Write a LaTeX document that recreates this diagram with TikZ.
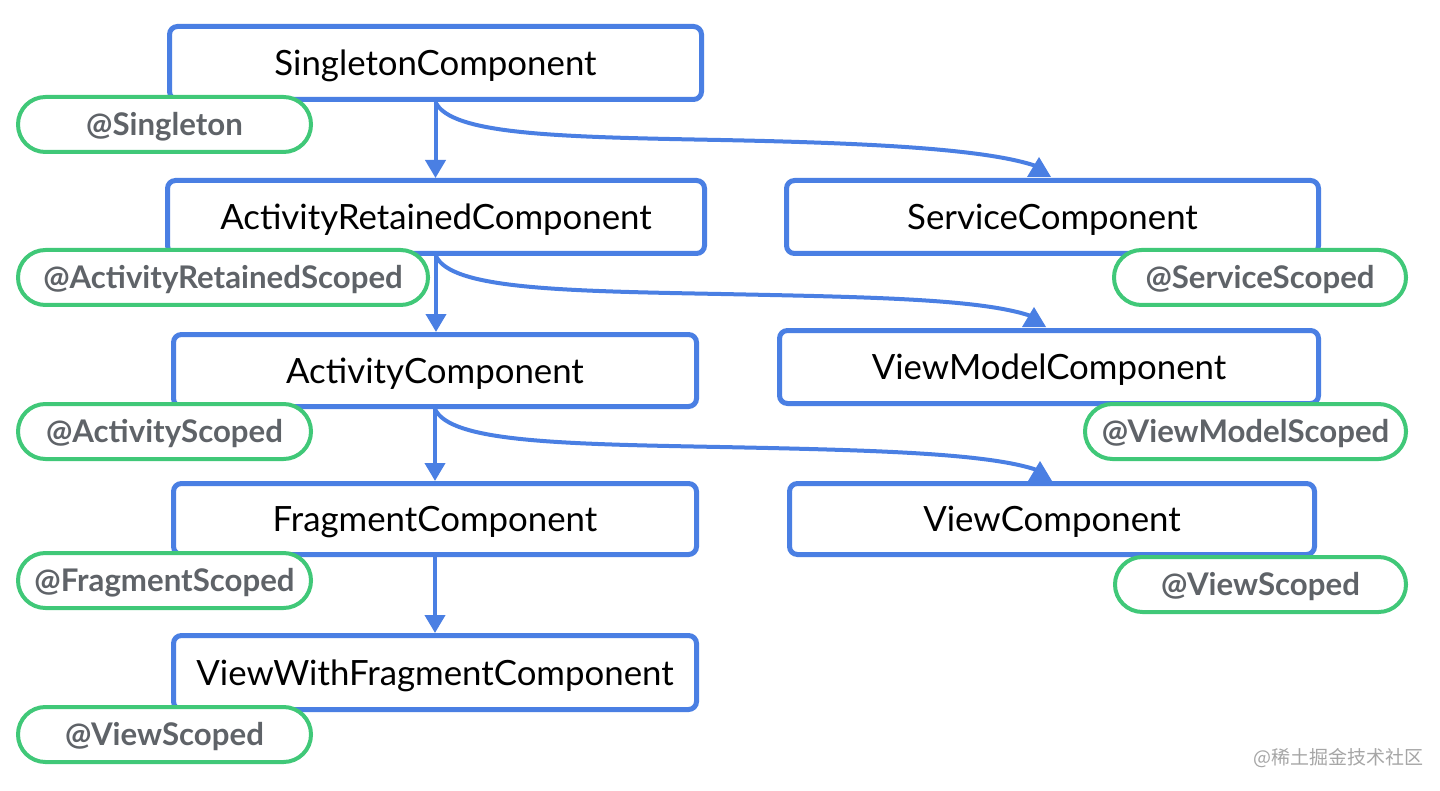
\documentclass[tikz,border=0pt]{standalone}
\usepackage{fontspec}
\setmainfont{Lato}
\newfontfamily\cjkfont{Noto Sans CJK SC}
\usetikzlibrary{arrows.meta,calc}
\definecolor{boxblue}{HTML}{4A7FE3}
\definecolor{pillgreen}{HTML}{40C878}
\definecolor{pilltext}{HTML}{5F6368}
\newcommand\hcurve[2]{%
  \draw[conn] (#1) .. controls +(15,33) and +(-160,-3) .. ++(285,38)
     .. controls +(150,3) and +(-50,-17) .. ($(#2)+(-3,9)$);
  \fill[boxblue] (#2) -- ++(-12,20) -- ++(24,0) -- cycle;}
\tikzset{
  comp/.style={draw=boxblue, line width=2.5pt, rounded corners=4pt, fill=white,
    inner sep=0pt, text=black, font=\fontsize{17.4}{20}\selectfont,
    text height=12.6pt, text depth=0pt},
  pill/.style={draw=pillgreen, line width=2pt, rounded corners=13.7pt, fill=white,
    inner sep=0pt, minimum height=27.5pt, text=pilltext,
    font=\bfseries\fontsize{15.6}{18}\selectfont, text height=11.3pt, text depth=0pt},
  conn/.style={draw=boxblue, line width=2pt},
  tip/.style={-{Triangle[width=10pt,length=9pt]}}
}
\begin{document}
\begin{tikzpicture}[x=0.5pt,y=-0.5pt]
\useasboundingbox (0,0) rectangle (1440,791);
\fill[white] (0,0) rectangle (1440,791);
% component boxes
\node[comp, minimum width=266pt, minimum height=36.5pt] (sc) at (435.5,63) {SingletonComponent};
\node[comp, minimum width=268.5pt, minimum height=36.5pt] (arc) at (436,217) {ActivityRetainedComponent};
\node[comp, minimum width=261.5pt, minimum height=36pt] (ac) at (435,370.5) {ActivityComponent};
\node[comp, minimum width=261.5pt, minimum height=35.5pt] (fc) at (435,519) {FragmentComponent};
\node[comp, minimum width=261.5pt, minimum height=37pt] (vfc) at (435,672.5) {ViewWithFragmentComponent};
\node[comp, minimum width=266pt, minimum height=36.5pt] (svc) at (1052.5,217) {ServiceComponent};
\node[comp, minimum width=269.5pt, minimum height=36.5pt] (vmc) at (1049,367) {ViewModelComponent};
\node[comp, minimum width=262.5pt, minimum height=35.5pt] (vc) at (1052,519) {ViewComponent};
% vertical connectors
\draw[conn,tip] (sc.south) -- (sc.south |- arc.north);
\draw[conn,tip] (arc.south) -- (arc.south |- ac.north);
\draw[conn,tip] (ac.south) -- (ac.south |- fc.north);
\draw[conn,tip] (fc.south) -- (fc.south |- vfc.north);
% curved connectors
\coordinate (a1) at (1039,157);
\coordinate (a2) at (1034,307);
\coordinate (a3) at (1040,461);
\hcurve{sc.south}{a1}
\hcurve{arc.south}{a2}
\hcurve{ac.south}{a3}
% scope pills
\node[pill, minimum width=146.5pt] (p1) at (164.5,124.5) {@Singleton};
\node[pill, minimum width=205pt] (p2) at (223,277.5) {@ActivityRetainedScoped};
\node[pill, minimum width=146.5pt] (p3) at (164.5,431.5) {@ActivityScoped};
\node[pill, minimum width=146.5pt] (p4) at (164.5,580.5) {@FragmentScoped};
\node[pill, minimum width=146.5pt] (p5) at (164.5,734.5) {@ViewScoped};
\node[pill, minimum width=146pt] (p6) at (1260,277.5) {@ServiceScoped};
\node[pill, minimum width=160.5pt] (p7) at (1245.5,431.5) {@ViewModelScoped};
\node[pill, minimum width=145.5pt] (p8) at (1260.5,584.5) {@ViewScoped};
% watermark
\node[font=\cjkfont\fontsize{9.5}{11}\selectfont, text=black!35, inner sep=0pt] (wm) at (1338,758) {@稀土掘金技术社区};
\end{tikzpicture}
\end{document}
